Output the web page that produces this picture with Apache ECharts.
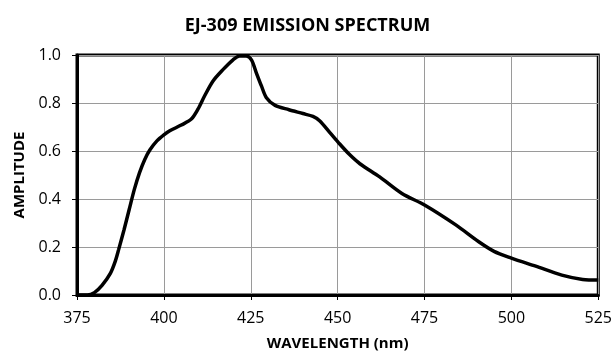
<!DOCTYPE html>
<html>
<head>
<meta charset="utf-8">
<script src="https://cdn.jsdelivr.net/npm/echarts@6/dist/echarts.min.js"></script>
<style>
html,body{margin:0;padding:0;background:#fff;}
#chart{width:615px;height:356px;}
</style>
</head>
<body>
<div id="chart"></div>
<script>
var titleText = 'EJ-309 EMISSION SPECTRUM';
var xAxisName = 'WAVELENGTH (nm)';
var yAxisName = 'AMPLITUDE';
var wavelength = [375, 378, 380, 382.2, 384.6, 386, 387, 388.5, 390, 391.5, 393, 394.5, 396, 398, 400, 401.7, 405, 407.9, 409.8, 411.7, 414.1, 417, 419.9, 421.8, 423.7, 425.2, 426.6, 428.1, 429.5, 432, 436, 440, 442.9, 444.8, 447.7, 450.6, 453.5, 456.4, 462.1, 468.5, 475, 484, 490.5, 495, 500, 507, 514.5, 520.5, 525];
var amplitude = [0, 0, 0.01, 0.04, 0.09, 0.14, 0.19, 0.27, 0.355, 0.44, 0.51, 0.565, 0.605, 0.642, 0.667, 0.684, 0.708, 0.733, 0.774, 0.829, 0.891, 0.939, 0.98, 0.996, 0.996, 0.98, 0.926, 0.87, 0.822, 0.79, 0.772, 0.756, 0.744, 0.726, 0.678, 0.629, 0.584, 0.547, 0.492, 0.423, 0.375, 0.292, 0.223, 0.182, 0.154, 0.12, 0.083, 0.065, 0.062];

var points = wavelength.map(function (w, i) { return [w, amplitude[i]]; });
var font = '"Open Sans", "Noto Sans", sans-serif';

var chart = echarts.init(document.getElementById('chart'), null, {renderer: 'canvas'});
chart.setOption({
  animation: false,
  backgroundColor: '#ffffff',
  title: {
    text: titleText,
    left: 'center',
    top: 12,
    textStyle: {fontFamily: font, fontSize: 18, fontWeight: 'bold', color: '#000'}
  },
  grid: {
    left: 77, right: 16, top: 55, bottom: 59,
    show: true, borderColor: '#000', borderWidth: 3, backgroundColor: 'transparent'
  },
  xAxis: {
    type: 'value', min: 375, max: 525, interval: 25,
    name: xAxisName, nameLocation: 'middle', nameGap: 41,
    nameTextStyle: {fontFamily: font, fontSize: 15, fontWeight: 'bold', color: '#000'},
    axisLine: {show: true, lineStyle: {color: '#000', width: 3}},
    axisTick: {show: true, length: 5, lineStyle: {color: '#000', width: 1}},
    axisLabel: {margin: 15, fontFamily: font, fontSize: 16, color: '#000'},
    splitLine: {show: true, lineStyle: {color: '#9a9a9a', width: 1}}
  },
  yAxis: {
    type: 'value', min: 0, max: 1, interval: 0.2,
    name: yAxisName, nameLocation: 'middle', nameGap: 47,
    nameTextStyle: {fontFamily: font, fontSize: 15, fontWeight: 'bold', color: '#000'},
    axisLine: {show: true, lineStyle: {color: '#000', width: 3}},
    axisTick: {show: true, length: 5, lineStyle: {color: '#000', width: 1}},
    axisLabel: {margin: 16, fontFamily: font, fontSize: 16, color: '#000',
      formatter: function (v) { return v.toFixed(1); }},
    splitLine: {show: true, lineStyle: {color: '#9a9a9a', width: 1}}
  },
  series: [{
    type: 'line',
    data: points,
    smooth: 0.3,
    showSymbol: false,
    clip: true,
    lineStyle: {color: '#000', width: 3.5}
  }]
});
</script>
</body>
</html>
